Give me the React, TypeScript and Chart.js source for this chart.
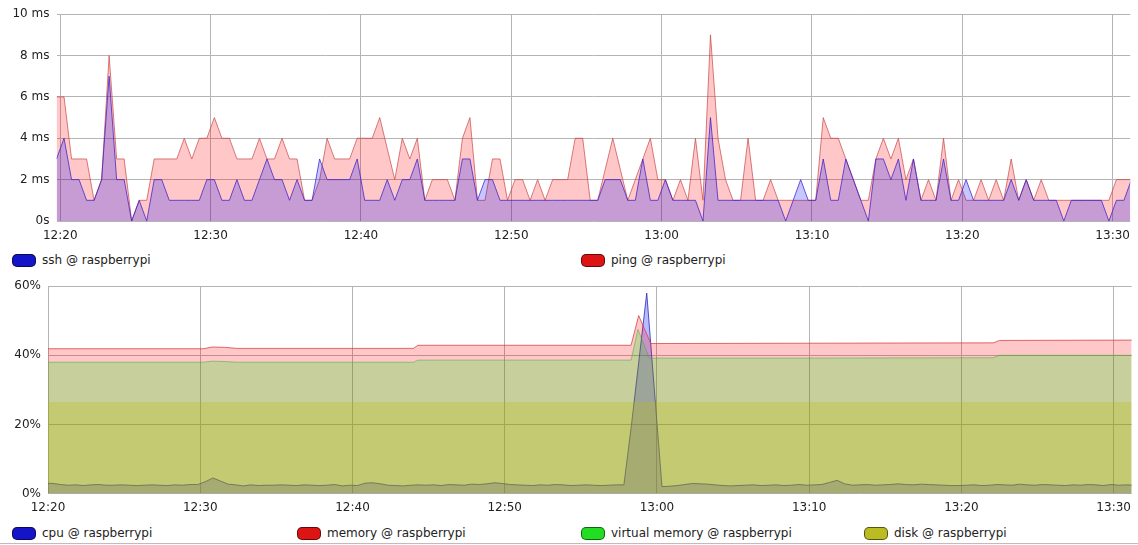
import React, { useEffect, useRef } from "react";
import { Chart, registerables } from "chart.js";

Chart.register(...registerables);

// ---------- data ----------
const HOST = "raspberrypi";
const START_LABEL_MINUTES = 12 * 60 + 20; // 12:20
const timeTicks = [0, 10, 20, 30, 40, 50, 60, 70];

// response times (ms), sampled every 30 s starting 12:19:45
const respStart = -0.25;
const respStep = 0.5;
const sshValues = [
  3, 4, 2, 2, 1, 1, 2, 7, 2, 2, 0, 1, 0, 2, 2, 1, 1, 1, 1, 1,
  2, 2, 1, 1, 2, 1, 1, 2, 3, 2, 2, 1, 2, 1, 1, 3, 2, 2, 2, 2,
  3, 1, 1, 1, 2, 1, 2, 2, 3, 1, 1, 1, 1, 1, 3, 3, 1, 2, 2, 1,
  1, 1, 1, 1, 1, 1, 1, 1, 1, 1, 1, 1, 1, 2, 2, 2, 1, 1, 3, 1,
  1, 2, 1, 1, 1, 1, 0, 5, 1, 1, 1, 1, 1, 1, 1, 1, 1, 0, 1, 2,
  1, 1, 3, 1, 1, 3, 2, 1, 0, 3, 3, 2, 3, 1, 3, 1, 1, 1, 3, 1,
  1, 2, 1, 1, 1, 1, 1, 2, 1, 2, 1, 1, 1, 1, 0, 1, 1, 1, 1, 1,
  0, 1, 1, 2,
];
const pingValues = [
  6, 6, 3, 3, 3, 1, 2, 8, 3, 3, 0, 1, 1, 3, 3, 3, 3, 4, 3, 4,
  4, 5, 4, 4, 3, 3, 3, 4, 3, 3, 4, 3, 3, 1, 1, 2, 4, 3, 3, 3,
  4, 4, 4, 5, 3.5, 2, 4, 3, 4, 1, 2, 2, 2, 1, 4, 5, 1, 1, 3, 3,
  1, 2, 2, 1, 2, 1, 2, 2, 2, 4, 4, 1, 1, 2.5, 4, 2.5, 1, 2, 3, 4,
  2, 2, 1, 2, 1, 4, 1, 9, 4, 2, 1, 1, 4, 1, 1, 2, 1, 1, 1, 1,
  1, 1, 5, 4, 4, 3, 2, 1, 1, 3, 4, 3, 4, 2, 3, 1, 2, 1, 4, 1,
  2, 1, 1, 2, 1, 2, 1, 3, 1, 2, 1, 2, 1, 1, 1, 1, 1, 1, 1, 1,
  1, 2, 2, 2,
];
const msTicks = [0, 2, 4, 6, 8, 10];

// resources (%), cpu sampled every 30 s starting 12:19:50
const resStart = -0.17;
const resStep = 0.5;
const cpuValues = [
  3.0, 2.9, 2.6, 2.4, 2.5, 2.3, 2.5, 2.6, 2.4, 2.4,
  2.5, 2.4, 2.3, 2.4, 2.5, 2.4, 2.3, 2.5, 2.4, 2.6,
  2.6, 3.4, 4.5, 3.6, 2.7, 2.5, 2.2, 2.5, 2.3, 2.4,
  2.4, 2.5, 2.4, 2.3, 2.5, 2.4, 2.3, 2.4, 2.6, 2.2,
  2.4, 2.3, 3.0, 3.1, 2.8, 2.4, 2.3, 2.2, 2.4, 2.5,
  2.4, 2.5, 2.3, 2.6, 2.5, 2.4, 2.7, 2.6, 2.8, 3.1,
  2.9, 2.6, 2.5, 2.4, 2.3, 2.5, 2.4, 2.6, 2.5, 2.3,
  2.4, 2.5, 2.4, 2.3, 2.4, 2.5, 2.5, 20, 39, 58,
  30, 2.0, 2.1, 2.3, 2.6, 2.9, 2.8, 2.7, 2.5, 2.3,
  2.2, 2.3, 2.4, 2.5, 2.3, 2.4, 2.5, 2.3, 2.4, 2.6,
  2.4, 2.5, 2.6, 3.2, 3.8, 2.8, 2.4, 2.5, 2.6, 2.4,
  2.5, 2.6, 2.8, 2.6, 2.5, 2.7, 2.6, 2.5, 2.4, 2.3,
  2.3, 2.4, 2.5, 2.3, 2.4, 2.6, 2.5, 2.4, 2.7, 2.5,
  2.4, 2.6, 2.5, 2.4, 2.3, 2.5, 2.4, 2.6, 2.5, 2.3,
  2.6, 2.4, 2.5, 2.4,
];
const memTimes = [-0.17, 10.2, 10.8, 11.6, 12.4, 24.0, 24.3, 38.3, 38.8, 39.6, 50.0, 62.1, 62.5, 71.33];
const memValues = [41.9, 41.9, 42.4, 42.3, 42.0, 42.0, 42.9, 42.9, 51.5, 43.4, 43.5, 43.6, 44.3, 44.4];
const vmTimes = [-0.17, 10.2, 10.8, 11.6, 12.4, 24.0, 24.3, 38.3, 38.75, 39.5, 50.0, 62.1, 62.5, 71.33];
const vmValues = [38.0, 38.0, 38.3, 38.2, 38.0, 38.0, 38.6, 38.6, 47.5, 39.2, 39.2, 39.3, 40.0, 40.0];
const diskTimes = [-0.17, 71.33];
const diskValues = [26.5, 26.5];
const pctTicks = [0, 20, 40, 60];

// ---------- helpers ----------
const FONT = "'DejaVu Sans', sans-serif";

function fmtTime(v: number): string {
  const total = START_LABEL_MINUTES + Math.round(v);
  const h = Math.floor(total / 60);
  const m = total % 60;
  return `${h}:${m < 10 ? "0" + m : m}`;
}

function series(start: number, step: number, values: number[]) {
  return values.map((y, i) => ({ x: start + i * step, y }));
}
function pairs(times: number[], values: number[]) {
  return values.map((y, i) => ({ x: times[i], y }));
}

function makeOptions(cfg: {
  xMin: number;
  xMax: number;
  yTicks: number[];
  yFmt: (v: number) => string;
  yWidth: number;
  xHeight: number;
  padTop: number;
  padRight: number;
  xPad: number;
}): any {
  const gridColor = "#b4b4b4";
  return {
    responsive: false,
    animation: false,
    devicePixelRatio: 1,
    layout: { padding: { top: cfg.padTop, right: cfg.padRight, left: 0, bottom: 0 } },
    plugins: { legend: { display: false }, tooltip: { enabled: false } },
    elements: { point: { radius: 0 }, line: { tension: 0 } },
    scales: {
      x: {
        type: "linear",
        min: cfg.xMin,
        max: cfg.xMax,
        border: { display: false },
        grid: { color: gridColor, lineWidth: 1, drawTicks: false },
        ticks: {
          padding: cfg.xPad,
          autoSkip: false,
          maxRotation: 0,
          color: "#222",
          font: { family: FONT, size: 12 },
          callback: (v: number) => fmtTime(v),
        },
        afterBuildTicks: (scale: any) => {
          scale.ticks = timeTicks.map((value) => ({ value }));
        },
        afterFit: (scale: any) => {
          scale.height = cfg.xHeight;
        },
      },
      y: {
        type: "linear",
        min: cfg.yTicks[0],
        max: cfg.yTicks[cfg.yTicks.length - 1],
        border: { display: false },
        grid: { color: gridColor, lineWidth: 1, drawTicks: false },
        ticks: {
          padding: 7,
          color: "#222",
          font: { family: FONT, size: 12 },
          callback: (v: number) => cfg.yFmt(v),
        },
        afterBuildTicks: (scale: any) => {
          scale.ticks = cfg.yTicks.map((value) => ({ value }));
        },
        afterFit: (scale: any) => {
          scale.width = cfg.yWidth;
        },
      },
    },
  };
}

function LegendItem(props: { left: number; top: number; color: string; label: string }) {
  return (
    <div
      style={{
        position: "absolute",
        left: props.left,
        top: props.top,
        height: 14,
        display: "flex",
        alignItems: "center",
        whiteSpace: "nowrap",
        fontFamily: FONT,
        fontSize: 12,
        color: "#222",
      }}
    >
      <span
        style={{
          display: "inline-block",
          width: 22,
          height: 11,
          borderRadius: 5,
          background: props.color,
          border: "1px solid rgba(0,0,0,0.55)",
          marginRight: 6,
        }}
      />
      <span>{props.label}</span>
    </div>
  );
}

export default function App() {
  const topRef = useRef<HTMLCanvasElement | null>(null);
  const botRef = useRef<HTMLCanvasElement | null>(null);

  useEffect(() => {
    document.body.style.margin = "0";
    document.body.style.background = "#fff";

    const top = new Chart(topRef.current as HTMLCanvasElement, {
      type: "line",
      data: {
        datasets: [
          {
            label: `ssh @ ${HOST}`,
            data: series(respStart, respStep, sshValues),
            borderColor: "rgba(60,30,200,0.75)",
            backgroundColor: "rgba(0,0,255,0.22)",
            borderWidth: 1,
            fill: "origin",
          },
          {
            label: `ping @ ${HOST}`,
            data: series(respStart, respStep, pingValues),
            borderColor: "rgba(200,70,70,0.7)",
            backgroundColor: "rgba(255,0,0,0.22)",
            borderWidth: 1,
            fill: "origin",
          },
        ],
      },
      options: makeOptions({
        xMin: -0.25,
        xMax: 71.17,
        yTicks: msTicks,
        yFmt: (v) => (v === 0 ? "0s" : `${v} ms`),
        yWidth: 56.5,
        xHeight: 27,
        padTop: 13,
        padRight: 3,
        xPad: 8,
      }),
    } as any);

    const bottom = new Chart(botRef.current as HTMLCanvasElement, {
      type: "line",
      data: {
        datasets: [
          {
            label: `disk @ ${HOST}`,
            data: pairs(diskTimes, diskValues),
            borderColor: "rgba(170,170,0,0)",
            backgroundColor: "rgba(190,190,0,0.27)",
            borderWidth: 0,
            fill: "origin",
          },
          {
            label: `virtual memory @ ${HOST}`,
            data: pairs(vmTimes, vmValues),
            borderColor: "rgba(60,170,60,0.5)",
            backgroundColor: "rgba(0,230,0,0.22)",
            borderWidth: 1,
            fill: "origin",
          },
          {
            label: `memory @ ${HOST}`,
            data: pairs(memTimes, memValues),
            borderColor: "rgba(210,60,60,0.75)",
            backgroundColor: "rgba(255,0,0,0.22)",
            borderWidth: 1,
            fill: "origin",
          },
          {
            label: `cpu @ ${HOST}`,
            data: series(resStart, resStep, cpuValues),
            borderColor: "rgba(40,40,190,0.8)",
            backgroundColor: "rgba(0,0,255,0.27)",
            borderWidth: 1,
            fill: "origin",
          },
        ],
      },
      options: makeOptions({
        xMin: 0,
        xMax: 71.18,
        yTicks: pctTicks,
        yFmt: (v) => `${v}%`,
        yWidth: 48,
        xHeight: 23.5,
        padTop: 13,
        padRight: 3,
        xPad: 7,
      }),
    } as any);

    return () => {
      top.destroy();
      bottom.destroy();
    };
  }, []);

  return (
    <div
      style={{
        position: "relative",
        width: 1138,
        height: 545,
        background: "#fff",
        overflow: "hidden",
      }}
    >
      <canvas
        ref={topRef}
        width={1138}
        height={248}
        style={{ position: "absolute", left: 0, top: 0, width: 1138, height: 248 }}
      />
      <LegendItem left={12} top={253} color="#1414c8" label={`ssh @ ${HOST}`} />
      <LegendItem left={581} top={253} color="#dc1414" label={`ping @ ${HOST}`} />
      <canvas
        ref={botRef}
        width={1138}
        height={245}
        style={{ position: "absolute", left: 0, top: 272, width: 1138, height: 245 }}
      />
      <LegendItem left={12} top={526} color="#1414c8" label={`cpu @ ${HOST}`} />
      <LegendItem left={297} top={526} color="#dc1414" label={`memory @ ${HOST}`} />
      <LegendItem left={581} top={526} color="#22dd22" label={`virtual memory @ ${HOST}`} />
      <LegendItem left={864} top={526} color="#bbbb22" label={`disk @ ${HOST}`} />
      <div
        style={{
          position: "absolute",
          left: 0,
          top: 543,
          width: 1138,
          height: 1,
          background: "#bdbdbd",
        }}
      />
    </div>
  );
}
